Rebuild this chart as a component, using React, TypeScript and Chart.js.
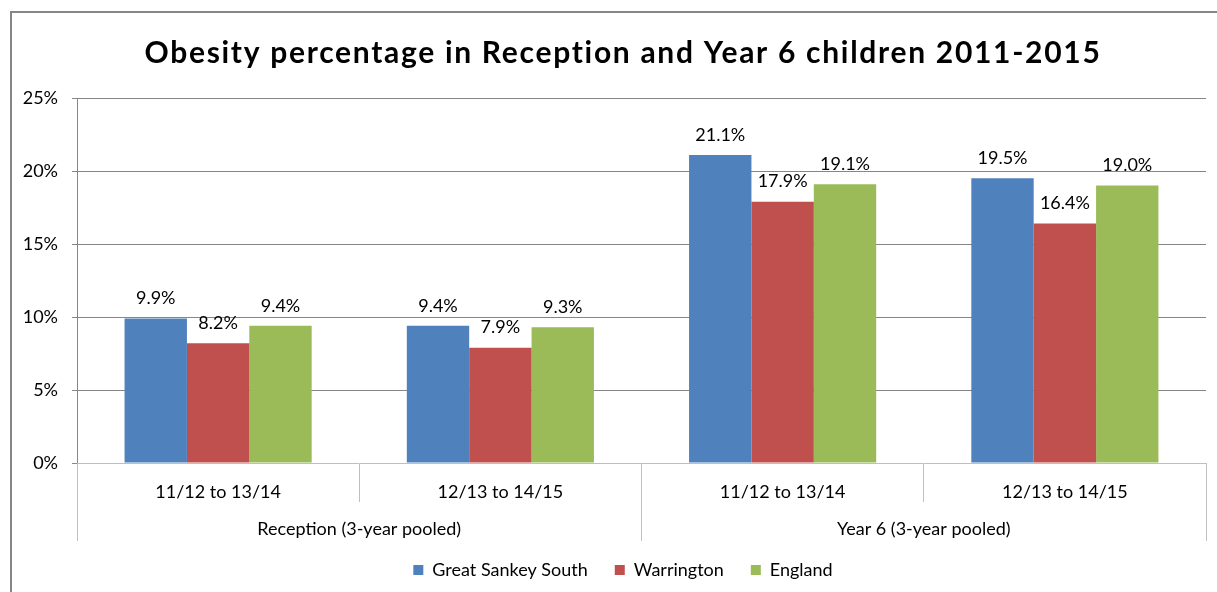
import React, { useEffect, useRef } from "react";
import { Chart, registerables } from "chart.js";

Chart.register(...registerables);

const titleText = "Obesity percentage in Reception and Year 6 children 2011-2015";
const categories = ["11/12 to 13/14", "12/13 to 14/15", "11/12 to 13/14", "12/13 to 14/15"];
const groups = ["Reception (3-year pooled)", "Year 6 (3-year pooled)"];
const seriesNames = ["Great Sankey South", "Warrington", "England"];
const greatSankeySouth = [9.9, 9.4, 21.1, 19.5];
const warrington = [8.2, 7.9, 17.9, 16.4];
const england = [9.4, 9.3, 19.1, 19.0];
const yMin = 0;
const yMax = 25;
const yStep = 5;

const seriesColors = ["#4F81BD", "#C0504D", "#9BBB59"];
const FONT = "Lato";
const GRID = "#868686";
const AXIS = "#BFBFBF";
const TICK_SIZE = 18;

const framePlugin = {
  id: "frame",
  beforeDraw(chart: any) {
    const { ctx, width, height } = chart;
    ctx.save();
    ctx.fillStyle = "#ffffff";
    ctx.fillRect(0, 0, width, height);
    ctx.strokeStyle = "#868686";
    ctx.lineWidth = 2;
    ctx.beginPath();
    ctx.moveTo(11, height);
    ctx.lineTo(11, 12);
    ctx.lineTo(width, 12);
    ctx.stroke();
    ctx.restore();
    // widen the title's letter spacing
    const tb = chart.titleBlock;
    if (tb && !tb.__wrapped) {
      const orig = tb.draw.bind(tb);
      tb.draw = () => {
        const c = chart.ctx;
        c.save();
        (c as any).letterSpacing = "1.7px";
        orig();
        c.restore();
      };
      tb.__wrapped = true;
    }
  },
};

const dataLabelPlugin = {
  id: "dataLabels",
  afterDatasetsDraw(chart: any) {
    const { ctx } = chart;
    ctx.save();
    ctx.font = `18px ${FONT}`;
    ctx.fillStyle = "#000000";
    ctx.textAlign = "center";
    ctx.textBaseline = "middle";
    chart.data.datasets.forEach((ds: any, i: number) => {
      const meta = chart.getDatasetMeta(i);
      meta.data.forEach((bar: any, j: number) => {
        const v = ds.data[j];
        ctx.fillText(v.toFixed(1) + "%", bar.x, bar.y - 20);
      });
    });
    ctx.restore();
  },
};

export default function App() {
  const ref = useRef<HTMLCanvasElement>(null);

  useEffect(() => {
    if (!ref.current) return;
    const values = [greatSankeySouth, warrington, england];

    // width of the widest y tick label, to right-align labels at x = 58
    const mctx = document.createElement("canvas").getContext("2d")!;
    mctx.font = `${TICK_SIZE}px ${FONT}`;
    let widest = 0;
    for (let v = yMin; v <= yMax; v += yStep) {
      widest = Math.max(widest, mctx.measureText(v + "%").width);
    }

    const chart = new Chart(ref.current, {
      type: "bar",
      data: {
        labels: categories,
        datasets: seriesNames.map((name, i) => ({
          label: name,
          data: values[i],
          backgroundColor: seriesColors[i],
          borderWidth: 0,
          categoryPercentage: 0.663,
          barPercentage: 1.0,
        })),
      },
      options: {
        animation: false,
        responsive: false,
        layout: { padding: { left: 40, right: 11, top: 0, bottom: 3 } },
        plugins: {
          title: {
            display: true,
            text: titleText,
            color: "#000000",
            font: { family: FONT, size: 30, weight: "bold" },
            padding: { top: 35, bottom: 27 },
          },
          legend: {
            position: "bottom",
            labels: {
              boxWidth: 10,
              boxHeight: 10,
              padding: 27,
              color: "#000000",
              font: { family: FONT, size: 18 },
            },
          },
          tooltip: { enabled: false },
        },
        scales: {
          y: {
            min: yMin,
            max: yMax,
            afterFit: (s: any) => {
              s.width = 37;
            },
            ticks: {
              stepSize: yStep,
              mirror: true,
              crossAlign: "far",
              padding: 58 - 77 - widest,
              color: "#000000",
              font: { family: FONT, size: TICK_SIZE },
              callback: (v: any) => v + "%",
            },
            grid: {
              color: (c: any) => (c.tick && c.tick.value === 0 ? "rgba(0,0,0,0)" : GRID),
              tickColor: GRID,
              tickLength: 5,
            },
            border: { display: true, color: GRID },
          },
          x: {
            weight: 0,
            offset: true,
            afterFit: (s: any) => {
              s.height = 39;
            },
            grid: {
              offset: true,
              drawOnChartArea: false,
              drawTicks: true,
              tickLength: 39,
              color: AXIS,
            },
            border: { display: true, color: AXIS },
            ticks: {
              padding: -20.6,
              maxRotation: 0,
              autoSkip: false,
              color: "#000000",
              font: { family: FONT, size: TICK_SIZE },
            },
          },
          x2: {
            type: "category",
            labels: groups,
            position: "bottom",
            weight: 1,
            offset: true,
            afterFit: (s: any) => {
              s.height = 32;
            },
            grid: {
              offset: true,
              drawOnChartArea: false,
              drawTicks: true,
              tickLength: 39,
              color: AXIS,
            },
            border: { display: false },
            ticks: {
              mirror: true,
              padding: -37.8,
              maxRotation: 0,
              autoSkip: false,
              color: "#000000",
              font: { family: FONT, size: TICK_SIZE },
            },
          },
        },
      } as any,
      plugins: [framePlugin, dataLabelPlugin],
    });
    return () => chart.destroy();
  }, []);

  return (
    <div style={{ position: "absolute", left: 0, top: 0, width: 1217, height: 592, overflow: "hidden" }}>
      <canvas ref={ref} width={1217} height={592} style={{ display: "block" }} />
    </div>
  );
}
